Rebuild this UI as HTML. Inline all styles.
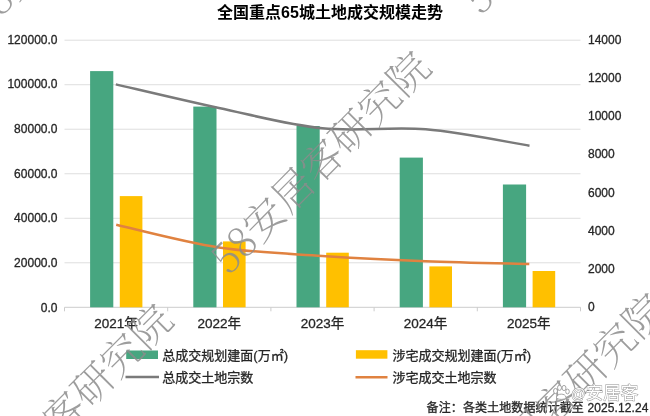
<!DOCTYPE html>
<html><head><meta charset="utf-8"><title>全国重点65城土地成交规模走势</title>
<style>
html,body{margin:0;padding:0;background:#fff;}
body{width:650px;height:416px;overflow:hidden;position:relative;}
svg{position:absolute;left:0;top:0;display:block;will-change:transform;}
.t{font-family:"Liberation Sans","Noto Sans CJK SC",sans-serif;}
.s{stroke:#262626;stroke-width:0.3px;}
.wm{font-family:"Noto Serif CJK SC",serif;font-weight:200;}
</style></head><body>
<svg width="650" height="416" viewBox="0 0 650 416">
<line x1="64.5" y1="40.20" x2="580.5" y2="40.20" stroke="#dedede" stroke-width="1"/>
<line x1="64.5" y1="84.72" x2="580.5" y2="84.72" stroke="#dedede" stroke-width="1"/>
<line x1="64.5" y1="129.23" x2="580.5" y2="129.23" stroke="#dedede" stroke-width="1"/>
<line x1="64.5" y1="173.75" x2="580.5" y2="173.75" stroke="#dedede" stroke-width="1"/>
<line x1="64.5" y1="218.27" x2="580.5" y2="218.27" stroke="#dedede" stroke-width="1"/>
<line x1="64.5" y1="262.78" x2="580.5" y2="262.78" stroke="#dedede" stroke-width="1"/>
<line x1="64.5" y1="307.3" x2="580.5" y2="307.3" stroke="#cccccc" stroke-width="1"/>
<line x1="64.50" y1="307.3" x2="64.50" y2="311.3" stroke="#cccccc" stroke-width="1"/>
<line x1="167.70" y1="307.3" x2="167.70" y2="311.3" stroke="#cccccc" stroke-width="1"/>
<line x1="270.90" y1="307.3" x2="270.90" y2="311.3" stroke="#cccccc" stroke-width="1"/>
<line x1="374.10" y1="307.3" x2="374.10" y2="311.3" stroke="#cccccc" stroke-width="1"/>
<line x1="477.30" y1="307.3" x2="477.30" y2="311.3" stroke="#cccccc" stroke-width="1"/>
<line x1="580.50" y1="307.3" x2="580.50" y2="311.3" stroke="#cccccc" stroke-width="1"/>
<rect x="90.10" y="71.1" width="23.2" height="236.20" fill="#47a680"/>
<rect x="119.80" y="196.1" width="22.6" height="111.20" fill="#ffc000"/>
<rect x="193.30" y="106.6" width="23.2" height="200.70" fill="#47a680"/>
<rect x="223.00" y="241.4" width="22.6" height="65.90" fill="#ffc000"/>
<rect x="296.50" y="126.0" width="23.2" height="181.30" fill="#47a680"/>
<rect x="326.20" y="252.7" width="22.6" height="54.60" fill="#ffc000"/>
<rect x="399.70" y="157.6" width="23.2" height="149.70" fill="#47a680"/>
<rect x="429.40" y="266.4" width="22.6" height="40.90" fill="#ffc000"/>
<rect x="502.90" y="184.5" width="23.2" height="122.80" fill="#47a680"/>
<rect x="532.60" y="271.0" width="22.6" height="36.30" fill="#ffc000"/>
<path d="M115.80,84.40 C132.98,88.33 184.48,100.68 218.90,108.00 C253.32,115.32 287.83,124.75 322.30,128.30 C356.77,131.85 391.17,126.40 425.70,129.30 C460.23,132.20 512.20,142.97 529.50,145.70" fill="none" stroke="#7a7a7a" stroke-width="2.5" stroke-linecap="butt"/>
<path d="M116.20,224.70 C133.32,228.48 184.55,242.20 218.90,247.40 C253.25,252.60 287.83,253.60 322.30,255.90 C356.77,258.20 391.20,259.83 425.70,261.20 C460.20,262.57 512.03,263.62 529.30,264.10" fill="none" stroke="#e08240" stroke-width="2.5" stroke-linecap="butt"/>
<text class="t" x="330" y="18" text-anchor="middle" font-size="16" font-weight="bold" fill="#000">全国重点65城土地成交规模走势</text>
<text class="t s" x="57.5" y="43.80" text-anchor="end" font-size="12" fill="#262626">120000.0</text>
<text class="t s" x="57.5" y="88.43" text-anchor="end" font-size="12" fill="#262626">100000.0</text>
<text class="t s" x="57.5" y="133.07" text-anchor="end" font-size="12" fill="#262626">80000.0</text>
<text class="t s" x="57.5" y="177.70" text-anchor="end" font-size="12" fill="#262626">60000.0</text>
<text class="t s" x="57.5" y="222.33" text-anchor="end" font-size="12" fill="#262626">40000.0</text>
<text class="t s" x="57.5" y="266.97" text-anchor="end" font-size="12" fill="#262626">20000.0</text>
<text class="t s" x="57.5" y="311.60" text-anchor="end" font-size="12" fill="#262626">0.0</text>
<text class="t s" x="588" y="43.80" font-size="12" fill="#262626">14000</text>
<text class="t s" x="588" y="82.01" font-size="12" fill="#262626">12000</text>
<text class="t s" x="588" y="120.23" font-size="12" fill="#262626">10000</text>
<text class="t s" x="588" y="158.44" font-size="12" fill="#262626">8000</text>
<text class="t s" x="588" y="196.66" font-size="12" fill="#262626">6000</text>
<text class="t s" x="588" y="234.87" font-size="12" fill="#262626">4000</text>
<text class="t s" x="588" y="273.09" font-size="12" fill="#262626">2000</text>
<text class="t s" x="588" y="311.30" font-size="12" fill="#262626">0</text>
<text class="t s" x="116.00" y="327.6" text-anchor="middle" font-size="13.5" fill="#262626">2021年</text>
<text class="t s" x="219.20" y="327.6" text-anchor="middle" font-size="13.5" fill="#262626">2022年</text>
<text class="t s" x="322.40" y="327.6" text-anchor="middle" font-size="13.5" fill="#262626">2023年</text>
<text class="t s" x="425.60" y="327.6" text-anchor="middle" font-size="13.5" fill="#262626">2024年</text>
<text class="t s" x="528.80" y="327.6" text-anchor="middle" font-size="13.5" fill="#262626">2025年</text>
<rect x="126.2" y="350.5" width="31.8" height="8.5" fill="#47a680"/>
<line x1="125.5" y1="377" x2="159" y2="377" stroke="#7a7a7a" stroke-width="2.5"/>
<rect x="355.9" y="350.2" width="31.5" height="8.5" fill="#ffc000"/>
<line x1="355.5" y1="377.3" x2="387.5" y2="377.3" stroke="#e08240" stroke-width="2.5"/>
<text class="t s" x="162.3" y="359.5" font-size="13" fill="#262626">总成交规划建面(万㎡)</text>
<text class="t s" x="162.3" y="382" font-size="13" fill="#262626">总成交土地宗数</text>
<text class="t s" x="392.5" y="359.5" font-size="13" fill="#262626">涉宅成交规划建面(万㎡)</text>
<text class="t s" x="392.5" y="382" font-size="13" fill="#262626">涉宅成交土地宗数</text>
<text class="t s" x="426.6" y="411.5" font-size="12" textLength="221.8" lengthAdjust="spacing" fill="#262626">备注：各类土地数据统计截至 2025.12.24</text>
<text class="wm" x="0" y="0" dominant-baseline="central" font-size="41" fill="#8c8c8c" fill-opacity="0.85" transform="translate(-27.60,21.10) rotate(-45)">58安居客研究院</text>
<text class="wm" x="0" y="0" dominant-baseline="central" font-size="41" fill="#8c8c8c" fill-opacity="0.85" transform="translate(-42.26,515.46) rotate(-45)">58安居客研究院</text>
<text class="wm" x="0" y="0" dominant-baseline="central" font-size="41" fill="#8c8c8c" fill-opacity="0.85" transform="translate(216.40,263.60) rotate(-45.3)">58安居客研究院</text>
<text class="wm" x="0" y="0" dominant-baseline="central" font-size="41" fill="#8c8c8c" fill-opacity="0.85" transform="translate(468.46,3.54) rotate(-45)">58安居客研究院</text>
<text class="wm" x="0" y="0" dominant-baseline="central" font-size="41" fill="#8c8c8c" fill-opacity="0.85" transform="translate(450.90,504.60) rotate(-45)">58安居客研究院</text>
<g fill="#fff" stroke="#9a9a9a" stroke-width="0.9"><ellipse cx="555.5" cy="391" rx="2" ry="2.6"/><ellipse cx="559.5" cy="387.8" rx="2" ry="2.6"/><ellipse cx="564" cy="388" rx="2" ry="2.6"/><ellipse cx="567.5" cy="391.5" rx="1.8" ry="2.4"/><path d="M556.5,397.5 C556.5,393 566,393 566,397.5 C566,400 556.5,400 556.5,397.5 Z"/></g>
<text class="t" x="571" y="398.5" fill="#fff" stroke="#909090" stroke-width="0.9" paint-order="stroke"><tspan font-size="14.5">@</tspan><tspan font-size="17.5">安居客</tspan></text>
</svg>
</body></html>
